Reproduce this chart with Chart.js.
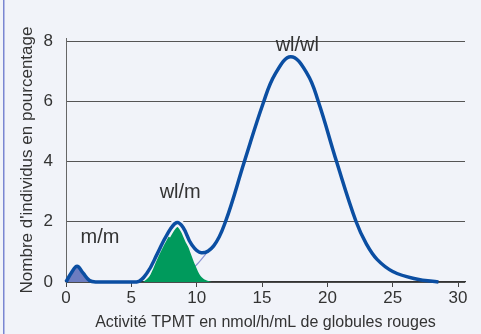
<!DOCTYPE html>
<html>
<head>
<meta charset="utf-8">
<script src="https://cdn.jsdelivr.net/npm/chart.js"></script>
<style>
  html, body { margin: 0; padding: 0; background: #f1f3f9; overflow: hidden; }
  canvas { display: block; }
</style>
</head>
<body>
<canvas id="tpmt" width="481" height="334"></canvas>
<script>
// TPMT activity distribution
const mainX = [0, 0.4, 0.85, 1.3, 1.8, 2.3, 5.4, 6.2, 7.0, 7.7, 8.45, 8.95, 9.6, 10.35, 11.3, 12.2, 13.65, 15.1, 16.0, 17.2, 18.45, 19.3, 20.7, 22.2, 23.0, 23.8, 25.0, 26.8, 28.5];
const mainY = [0, 0.3, 0.52, 0.3, 0.05, 0, 0, 0.3, 0.95, 1.55, 1.97, 1.82, 1.25, 0.97, 1.2, 2.0, 4.0, 5.95, 6.9, 7.48, 6.92, 6.0, 4.0, 2.0, 1.25, 0.75, 0.35, 0.1, 0];

const mmX = [0, 0.4, 0.85, 1.3, 1.8, 2.3];
const mmY = [0, 0.3, 0.52, 0.3, 0.05, 0];

const wlmX = [5.9, 6.4, 6.96, 7.72, 8.5, 8.8, 9.5, 9.9, 10.3, 11.0, 11.3];
const wlmY = [0, 0.2, 0.74, 1.4, 1.85, 1.8, 1.0, 0.55, 0.2, 0.02, 0];

const tailX = [6.0, 8.0, 9.0, 9.9, 10.8];
const tailY = [0, 0.15, 0.3, 0.53, 0.98];

const xTicks = [0, 5, 10, 15, 20, 25, 30];
const yTicks = [0, 2, 4, 6, 8];

const peakLabels = [
  { text: 'm/m', x: 2.6, y: 1.47 },
  { text: 'wl/m', x: 8.74, y: 2.96 },
  { text: 'wl/wl', x: 17.7, y: 7.84 }
];

const pts = (xs, ys) => xs.map((x, i) => ({ x: x, y: ys[i] }));

const bg = '#f1f3f9';
const ink = '#333333';

const decor = {
  id: 'decor',
  beforeDraw(chart) {
    const ctx = chart.ctx;
    ctx.save();
    ctx.fillStyle = bg;
    ctx.fillRect(0, 0, chart.width, chart.height);
    ctx.fillStyle = '#7a86d2';
    ctx.fillRect(3, 0, 1.5, chart.height);
    ctx.restore();
  },
  afterDatasetsDraw(chart) {
    const ctx = chart.ctx;
    const xs = chart.scales.x, ys = chart.scales.y;
    ctx.save();
    ctx.fillStyle = ink;
    ctx.font = '20px "Liberation Sans", Arial, sans-serif';
    ctx.textAlign = 'center';
    ctx.textBaseline = 'middle';
    peakLabels.forEach(l => {
      ctx.fillText(l.text, xs.getPixelForValue(l.x), ys.getPixelForValue(l.y));
    });
    ctx.restore();
  }
};

Chart.defaults.font.family = '"Liberation Sans", Arial, sans-serif';
Chart.defaults.color = ink;

const blue = '#0b4ea2';

new Chart(document.getElementById('tpmt'), {
  type: 'line',
  data: {
    datasets: [
      {
        data: pts(mainX, mainY),
        borderColor: blue,
        borderWidth: 3.5,
        pointRadius: 0,
        fill: false,
        tension: 0.4,
        clip: 6,
        order: 0
      },
      {
        // light halo around the line above the green peak
        data: pts(mainX, mainY),
        borderWidth: 8,
        pointRadius: 0,
        fill: false,
        tension: 0.4,
        segment: {
          borderColor: c => (c.p0.parsed.x >= 7.7 && c.p1.parsed.x <= 10.35) ? bg : 'rgba(0,0,0,0)'
        },
        order: 1
      },
      {
        data: pts(wlmX, wlmY),
        borderWidth: 0,
        backgroundColor: '#009a5c',
        pointRadius: 0,
        fill: 'origin',
        cubicInterpolationMode: 'monotone',
        order: 2
      },
      {
        data: pts(tailX, tailY),
        borderColor: '#8b93d4',
        borderWidth: 1.2,
        pointRadius: 0,
        fill: false,
        cubicInterpolationMode: 'monotone',
        order: 3
      },
      {
        data: pts(mmX, mmY),
        borderWidth: 0,
        backgroundColor: '#6c7cc0',
        pointRadius: 0,
        fill: 'origin',
        tension: 0.4,
        order: 4
      }
    ]
  },
  options: {
    responsive: false,
    animation: false,
    events: [],
    layout: { padding: { left: 0, right: 16, top: 38, bottom: 0 } },
    plugins: {
      legend: { display: false },
      tooltip: { enabled: false }
    },
    scales: {
      x: {
        type: 'linear',
        min: 0,
        max: 30.53,
        afterBuildTicks: s => { s.ticks = xTicks.map(v => ({ value: v })); },
        afterFit: s => { s.height = 52; },
        grid: { drawOnChartArea: false, drawTicks: true, tickLength: 5, color: '#444444' },
        border: { color: '#333333', width: 1.2 },
        ticks: { font: { size: 17 }, padding: 1.5, maxRotation: 0 },
        title: {
          display: true,
          text: 'Activité TPMT en nmol/h/mL de globules rouges',
          font: { size: 16 },
          padding: { top: 0, bottom: 2 }
        }
      },
      y: {
        min: 0,
        max: 8.1,
        afterBuildTicks: s => { s.ticks = yTicks.map(v => ({ value: v })); },
        afterFit: s => { s.width = 66; },
        grid: { drawTicks: false, color: '#555555' },
        border: { color: '#666666' },
        ticks: { font: { size: 17 }, padding: 13 },
        title: {
          display: true,
          text: "Nombre d'individus en pourcentage",
          font: { size: 17 },
          padding: { top: 17, bottom: 0 }
        }
      }
    }
  },
  plugins: [decor]
});
</script>
</body>
</html>
